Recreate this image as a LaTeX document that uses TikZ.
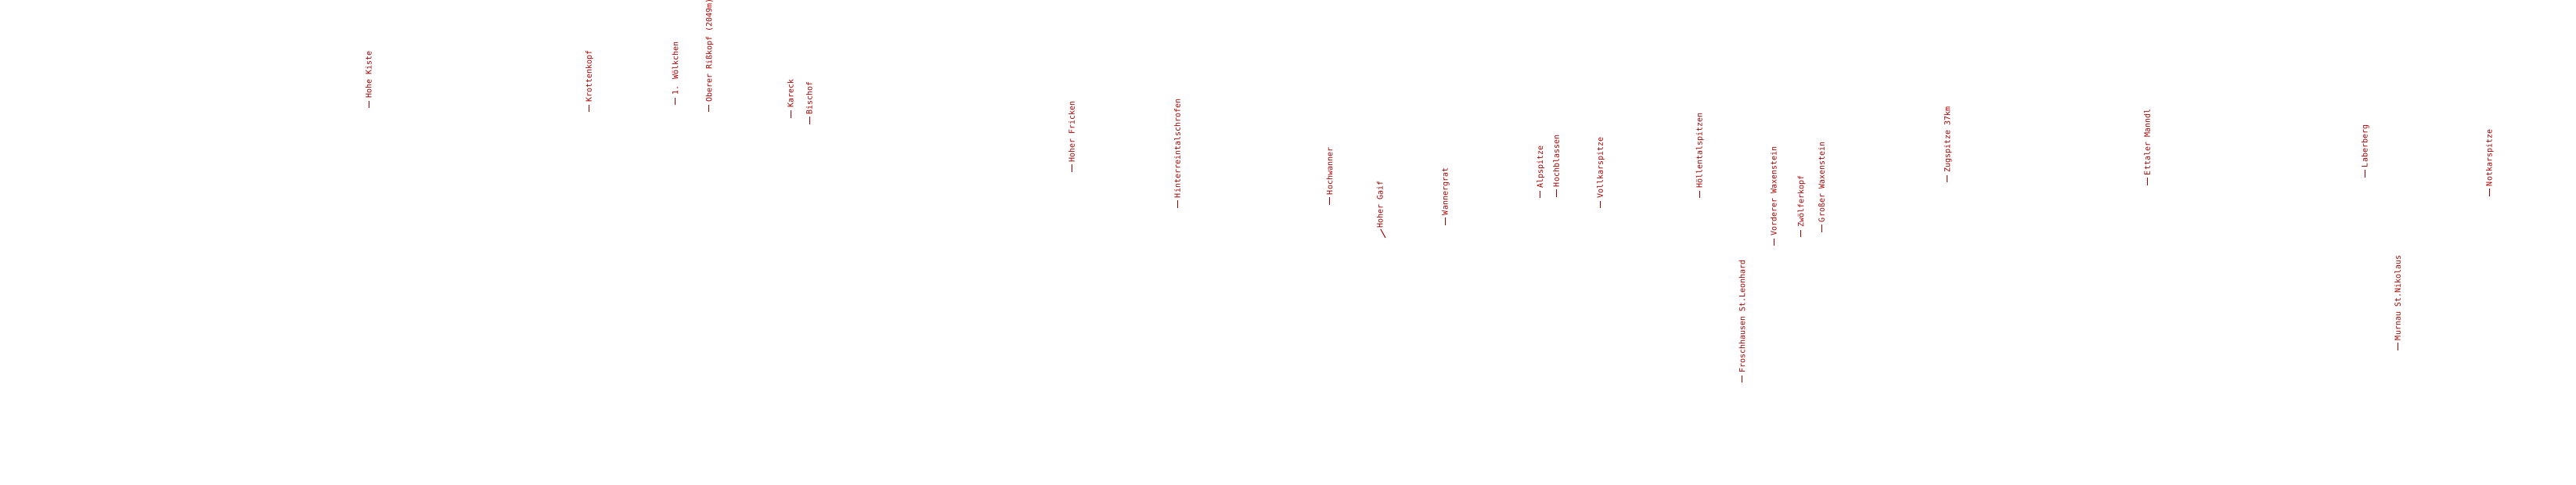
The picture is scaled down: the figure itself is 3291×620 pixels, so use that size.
\documentclass[tikz,border=0pt]{standalone}
\usepackage{fontspec}
\usepackage{xcolor}
\usepackage{tikz}
\newfontfamily\peakfont{DejaVu Sans Mono}
\definecolor{lbl}{HTML}{AA0000}
\tikzset{
  peak/.style={text=lbl, font=\peakfont\fontsize{10bp}{12bp}\selectfont, rotate=90, anchor=west,
    inner sep=0pt, text height=7.2bp, text depth=0pt},
  lead/.style={draw=lbl, line width=1bp, shorten >=3bp},
}
\begin{document}
\begin{tikzpicture}[x=1bp,y=-1bp]
  \useasboundingbox[fill=white] (0,0) rectangle (3291,620);

  % peaks (foot of each leader)
  \coordinate (hk) at (471,138.3);
  \coordinate (kk) at (752.3,143.3);
  \coordinate (wk) at (862.7,134.3);
  \coordinate (rk) at (905.7,143.3);
  \coordinate (ka) at (1010,150.7);
  \coordinate (bi) at (1034,159);
  \coordinate (hf) at (1369.3,220);
  \coordinate (hs) at (1504.3,265.7);
  \coordinate (hw) at (1698.7,261.7);
  \coordinate (hg) at (1770,304);
  \coordinate (wg) at (1846,287.7);
  \coordinate (as) at (1967.5,253.3);
  \coordinate (hb) at (1988.3,251.7);
  \coordinate (vk) at (2044.3,266);
  \coordinate (ht) at (2171,253.3);
  \coordinate (fs) at (2225.7,489.3);
  \coordinate (vw) at (2266,314.3);
  \coordinate (zk) at (2300.7,303.3);
  \coordinate (gw) at (2327.3,296.7);
  \coordinate (zs) at (2487.7,233.3);
  \coordinate (em) at (2743.3,236.7);
  \coordinate (lb) at (3021,226.7);
  \coordinate (mn) at (3063.3,447.7);
  \coordinate (nk) at (3180,250.7);

  % labels
  \node[peak] (hohekiste) at ([yshift=12.5bp]hk) {Hohe Kiste};
  \node[peak] (krottenkopf) at ([yshift=12.5bp]kk) {Krottenkopf};
  \node[peak] (woelkchen) at ([yshift=12.5bp]wk) {1. Wölkchen};
  \node[peak] (risskopf) at ([yshift=12.5bp]rk) {Oberer Rißkopf (2049m)};
  \node[peak] (kareck) at ([yshift=12.5bp]ka) {Kareck};
  \node[peak] (bischof) at ([yshift=12.5bp]bi) {Bischof};
  \node[peak] (fricken) at ([yshift=12.5bp]hf) {Hoher Fricken};
  \node[peak] (hinterrein) at ([yshift=12.5bp]hs) {Hinterreintalschrofen};
  \node[peak] (hochwanner) at ([yshift=12.5bp]hw) {Hochwanner};
  \node[peak] (gaif) at (1763,291.5) {Hoher Gaif};
  \node[peak] (wannergrat) at ([yshift=12.5bp]wg) {Wannergrat};
  \node[peak] (alpspitze) at ([yshift=12.5bp]as) {Alpspitze};
  \node[peak] (hochblassen) at ([yshift=12.5bp]hb) {Hochblassen};
  \node[peak] (vollkar) at ([yshift=12.5bp]vk) {Vollkarspitze};
  \node[peak] (hoellental) at ([yshift=12.5bp]ht) {Höllentalspitzen};
  \node[peak] (froschhausen) at ([yshift=12.5bp]fs) {Froschhausen St.Leonhard};
  \node[peak] (vwaxen) at ([yshift=12.5bp]vw) {Vorderer Waxenstein};
  \node[peak] (zwoelfer) at ([yshift=12.5bp]zk) {Zwölferkopf};
  \node[peak] (gwaxen) at ([yshift=12.5bp]gw) {Großer Waxenstein};
  \node[peak] (zugspitze) at ([yshift=12.5bp]zs) {Zugspitze 37km};
  \node[peak] (ettaler) at ([yshift=12.5bp]em) {Ettaler Manndl};
  \node[peak] (laberberg) at ([yshift=12.5bp]lb) {Laberberg};
  \node[peak] (murnau) at ([yshift=12.5bp]mn) {Murnau St.Nikolaus};
  \node[peak] (notkar) at ([yshift=12.5bp]nk) {Notkarspitze};

  % leaders
  \draw[lead] (hk) -- (hohekiste.west);
  \draw[lead] (kk) -- (krottenkopf.west);
  \draw[lead] (wk) -- (woelkchen.west);
  \draw[lead] (rk) -- (risskopf.west);
  \draw[lead] (ka) -- (kareck.west);
  \draw[lead] (bi) -- (bischof.west);
  \draw[lead] (hf) -- (fricken.west);
  \draw[lead] (hs) -- (hinterrein.west);
  \draw[lead] (hw) -- (hochwanner.west);
  \draw[lead,shorten >=1.5bp] (hg) -- (gaif.west);
  \draw[lead] (wg) -- (wannergrat.west);
  \draw[lead] (as) -- (alpspitze.west);
  \draw[lead] (hb) -- (hochblassen.west);
  \draw[lead] (vk) -- (vollkar.west);
  \draw[lead] (ht) -- (hoellental.west);
  \draw[lead] (fs) -- (froschhausen.west);
  \draw[lead] (vw) -- (vwaxen.west);
  \draw[lead] (zk) -- (zwoelfer.west);
  \draw[lead] (gw) -- (gwaxen.west);
  \draw[lead] (zs) -- (zugspitze.west);
  \draw[lead] (em) -- (ettaler.west);
  \draw[lead] (lb) -- (laberberg.west);
  \draw[lead] (mn) -- (murnau.west);
  \draw[lead] (nk) -- (notkar.west);
\end{tikzpicture}
\end{document}
